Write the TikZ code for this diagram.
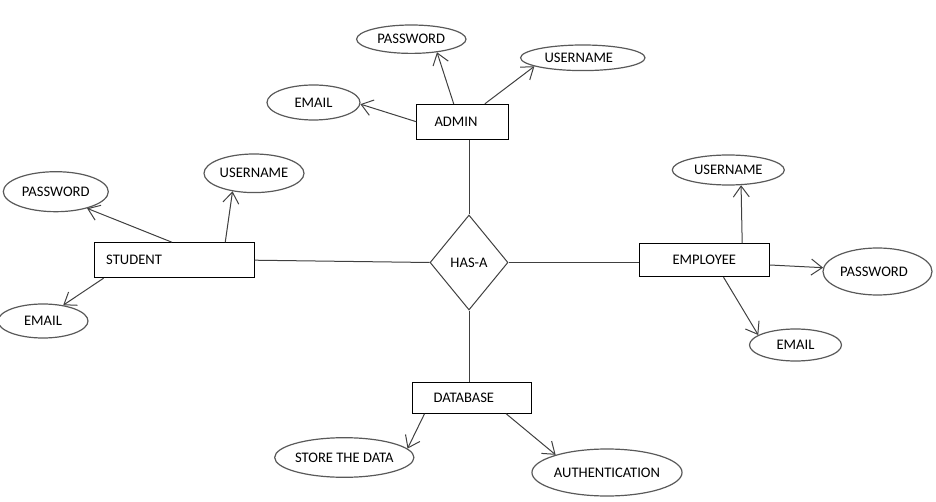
\documentclass[tikz,border=0pt]{standalone}
\usepackage{fontspec}
\setmainfont{Carlito}
\usetikzlibrary{shapes.geometric,arrows.meta}
\begin{document}
\begin{tikzpicture}[x=1pt,y=-1pt,
  every node/.style={font=\fontsize{14.6}{17}\selectfont, text=black},
  entity/.style={draw=black, line width=1pt, rectangle, inner sep=0pt},
  attr/.style={draw=black!65, line width=1.2pt, ellipse, inner sep=0pt},
  rel/.style={draw=black!75, line width=1pt, diamond, inner sep=0pt},
  link/.style={draw=black!75, line width=1pt},
  attrlink/.style={link, -{Straight Barb[length=11pt,width=16pt,line width=1pt]}},
]
\useasboundingbox (0,0) rectangle (936,502);

% entities
\node[entity, minimum width=91.6pt, minimum height=34.7pt, text width=56pt, align=left] (admin) at (462.5,121.7) {ADMIN};
\node[entity, minimum width=159.7pt, minimum height=35pt, text width=136pt, align=left] (student) at (174.2,260.2) {STUDENT};
\node[entity, minimum width=130pt, minimum height=32.7pt] (employee) at (704.3,260.3) {EMPLOYEE};
\node[entity, minimum width=119.4pt, minimum height=30.6pt, text width=77pt, align=left] (database) at (472,398) {DATABASE};

% relationship
\node[rel, minimum width=78pt, minimum height=95pt] (hasa) at (469,262.5) {HAS-A};

% attributes
\node[attr, minimum width=109.4pt, minimum height=28.4pt] (pwA) at (411.3,39.2) {PASSWORD};
\node[attr, minimum width=124.4pt, minimum height=25.6pt] (unA) at (582.8,57.8) {\hspace*{-8pt}USERNAME};
\node[attr, minimum width=93pt, minimum height=35pt] (emA) at (313.5,102.5) {EMAIL};

\node[attr, minimum width=105pt, minimum height=40pt] (pwS) at (55.8,191.7) {PASSWORD};
\node[attr, minimum width=100pt, minimum height=38.6pt] (unS) at (254,173.3) {USERNAME};
\node[attr, minimum width=90pt, minimum height=34pt] (emS) at (43,321) {EMAIL};

\node[attr, minimum width=112pt, minimum height=30pt] (unE) at (728.3,170) {USERNAME};
\node[attr, minimum width=109pt, minimum height=47pt] (pwE) at (877.5,271.5) {\hspace*{-7pt}PASSWORD};
\node[attr, minimum width=92pt, minimum height=32pt] (emE) at (795.5,345) {EMAIL};

\node[attr, minimum width=136.6pt, minimum height=39.6pt] (store) at (344.3,457.5) {STORE THE DATA};
\node[attr, minimum width=140pt, minimum height=47pt] (auth) at (607,472.5) {AUTHENTICATION};

% relationship links
\draw[link] (hasa.north |- admin.south) -- (hasa.north);
\draw[link] (student.east) -- (hasa.west);
\draw[link] (hasa.east) -- (hasa.east -| employee.west);
\draw[link] (hasa.south) -- (hasa.south |- database.north);

% attribute links
\draw[attrlink] ([xshift=37.5pt]admin.north west) -- (pwA.-27.6);
\draw[attrlink] ([xshift=68.6pt]admin.north west) -- (unA.190.7);
\draw[attrlink] (admin.west) -- (emA.-2);

\draw[attrlink] ([xshift=78pt]student.north west) -- (pwS.-28.1);
\draw[attrlink] ([xshift=131.4pt]student.north west) -- (unS.220.6);
\draw[attrlink] ([xshift=9.7pt]student.south west) -- (emS.38.7);

\draw[attrlink] ([xshift=103.4pt]employee.north west) -- (unE.-50);
\draw[attrlink] ([yshift=-4.7pt]employee.east) -- (pwE.176.5);
\draw[attrlink] ([xshift=84.7pt]employee.south west) -- (emE.165);

\draw[attrlink] ([xshift=12.7pt]database.south west) -- (store.8);
\draw[attrlink] ([xshift=94.4pt]database.south west) -- (auth.161.4);
\end{tikzpicture}
\end{document}
